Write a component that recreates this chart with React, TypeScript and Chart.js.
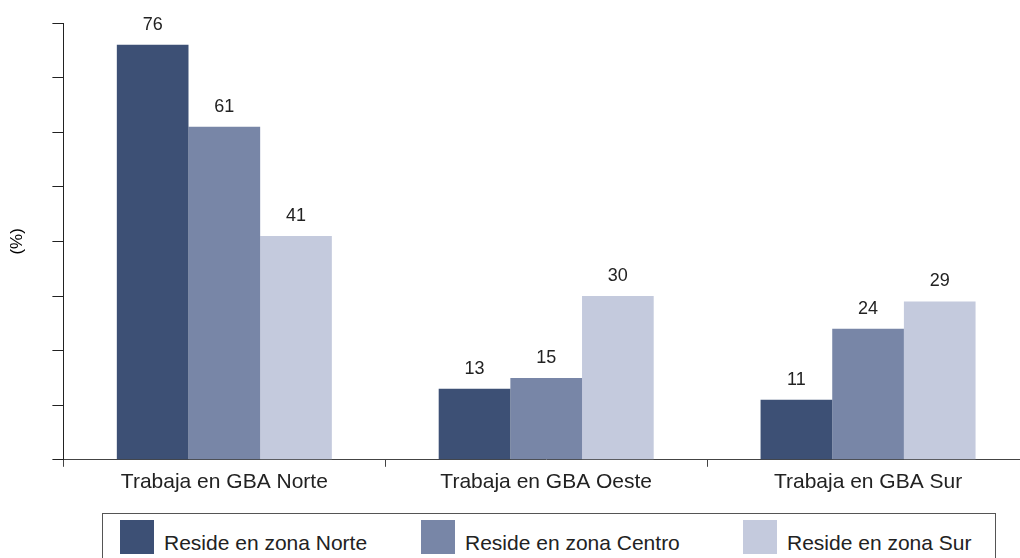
import React, { useEffect, useRef } from "react";
import { Chart, registerables } from "chart.js";

Chart.register(...registerables);

const categories = ["Trabaja en GBA Norte", "Trabaja en GBA Oeste", "Trabaja en GBA Sur"];
const seriesNames = ["Reside en zona Norte", "Reside en zona Centro", "Reside en zona Sur"];
const norteValues = [76, 13, 11];
const centroValues = [61, 15, 24];
const surValues = [41, 30, 29];
const seriesColors = ["rgb(61,80,117)", "rgb(120,134,167)", "rgb(196,202,221)"];
const yMin = 0;
const yMax = 80;
const yStep = 10;
const yTitle = "(%)";

const FONT = "'Liberation Sans', Arial, sans-serif";

const valueLabels = {
  id: "valueLabels",
  afterDatasetsDraw(chart: any) {
    const ctx = chart.ctx;
    ctx.save();
    ctx.font = `18px ${FONT}`;
    ctx.fillStyle = "#222";
    ctx.textAlign = "center";
    ctx.textBaseline = "bottom";
    chart.data.datasets.forEach((ds: any, i: number) => {
      const meta = chart.getDatasetMeta(i);
      meta.data.forEach((el: any, j: number) => {
        ctx.fillText(String(ds.data[j]), el.x, el.y - 11);
      });
    });
    ctx.restore();
  },
};

export default function App() {
  const ref = useRef<HTMLCanvasElement | null>(null);

  useEffect(() => {
    if (!ref.current) return;
    const allSeries = [norteValues, centroValues, surValues];
    const chart = new Chart(ref.current, {
      type: "bar",
      data: {
        labels: categories,
        datasets: allSeries.map((vals, i) => ({
          label: seriesNames[i],
          data: vals,
          backgroundColor: seriesColors[i],
          borderWidth: 0,
          barPercentage: 1,
          categoryPercentage: 0.668,
        })),
      },
      options: {
        animation: false,
        responsive: false,
        maintainAspectRatio: false,
        layout: { padding: { top: 23, left: 4, right: 11, bottom: 2 } },
        plugins: {
          legend: { display: false },
          tooltip: { enabled: false },
        },
        scales: {
          x: {
            grid: {
              display: true,
              drawOnChartArea: false,
              drawTicks: true,
              tickLength: 7,
              color: "#444",
              offset: true,
            },
            border: { display: true, color: "#444", width: 1 },
            ticks: {
              color: "#222",
              font: { family: FONT, size: 21 },
              padding: 3,
            },
          },
          y: {
            min: yMin,
            max: yMax,
            grid: {
              display: true,
              drawOnChartArea: false,
              drawTicks: true,
              tickLength: 11,
              color: "#222",
            },
            border: { display: true, color: "#222", width: 1 },
            ticks: { display: false, stepSize: yStep },
            title: {
              display: true,
              text: yTitle,
              color: "#000",
              font: { family: FONT, size: 17 },
              padding: { top: 3, bottom: 25 },
            },
          },
        },
      },
      plugins: [valueLabels],
    });
    return () => chart.destroy();
  }, []);

  const swatchX = [17, 318, 640];

  return (
    <div
      style={{
        position: "fixed",
        left: 0,
        top: 0,
        width: 1020,
        height: 558,
        overflow: "hidden",
        background: "#fff",
      }}
    >
      <canvas ref={ref} width={1040} height={500} style={{ display: "block", width: 1040, height: 500 }} />
      <div
        style={{
          position: "absolute",
          left: 102,
          top: 513,
          width: 892,
          height: 70,
          border: "1px solid #555",
          fontFamily: FONT,
          fontSize: 21,
          color: "#222",
        }}
      >
        {seriesNames.map((name, i) => (
          <React.Fragment key={name}>
            <div
              style={{
                position: "absolute",
                left: swatchX[i],
                top: 6,
                width: 34,
                height: 34,
                background: seriesColors[i],
              }}
            />
            <div
              style={{
                position: "absolute",
                left: swatchX[i] + 44,
                top: 17,
                lineHeight: "24px",
                whiteSpace: "nowrap",
              }}
            >
              {name}
            </div>
          </React.Fragment>
        ))}
      </div>
    </div>
  );
}
